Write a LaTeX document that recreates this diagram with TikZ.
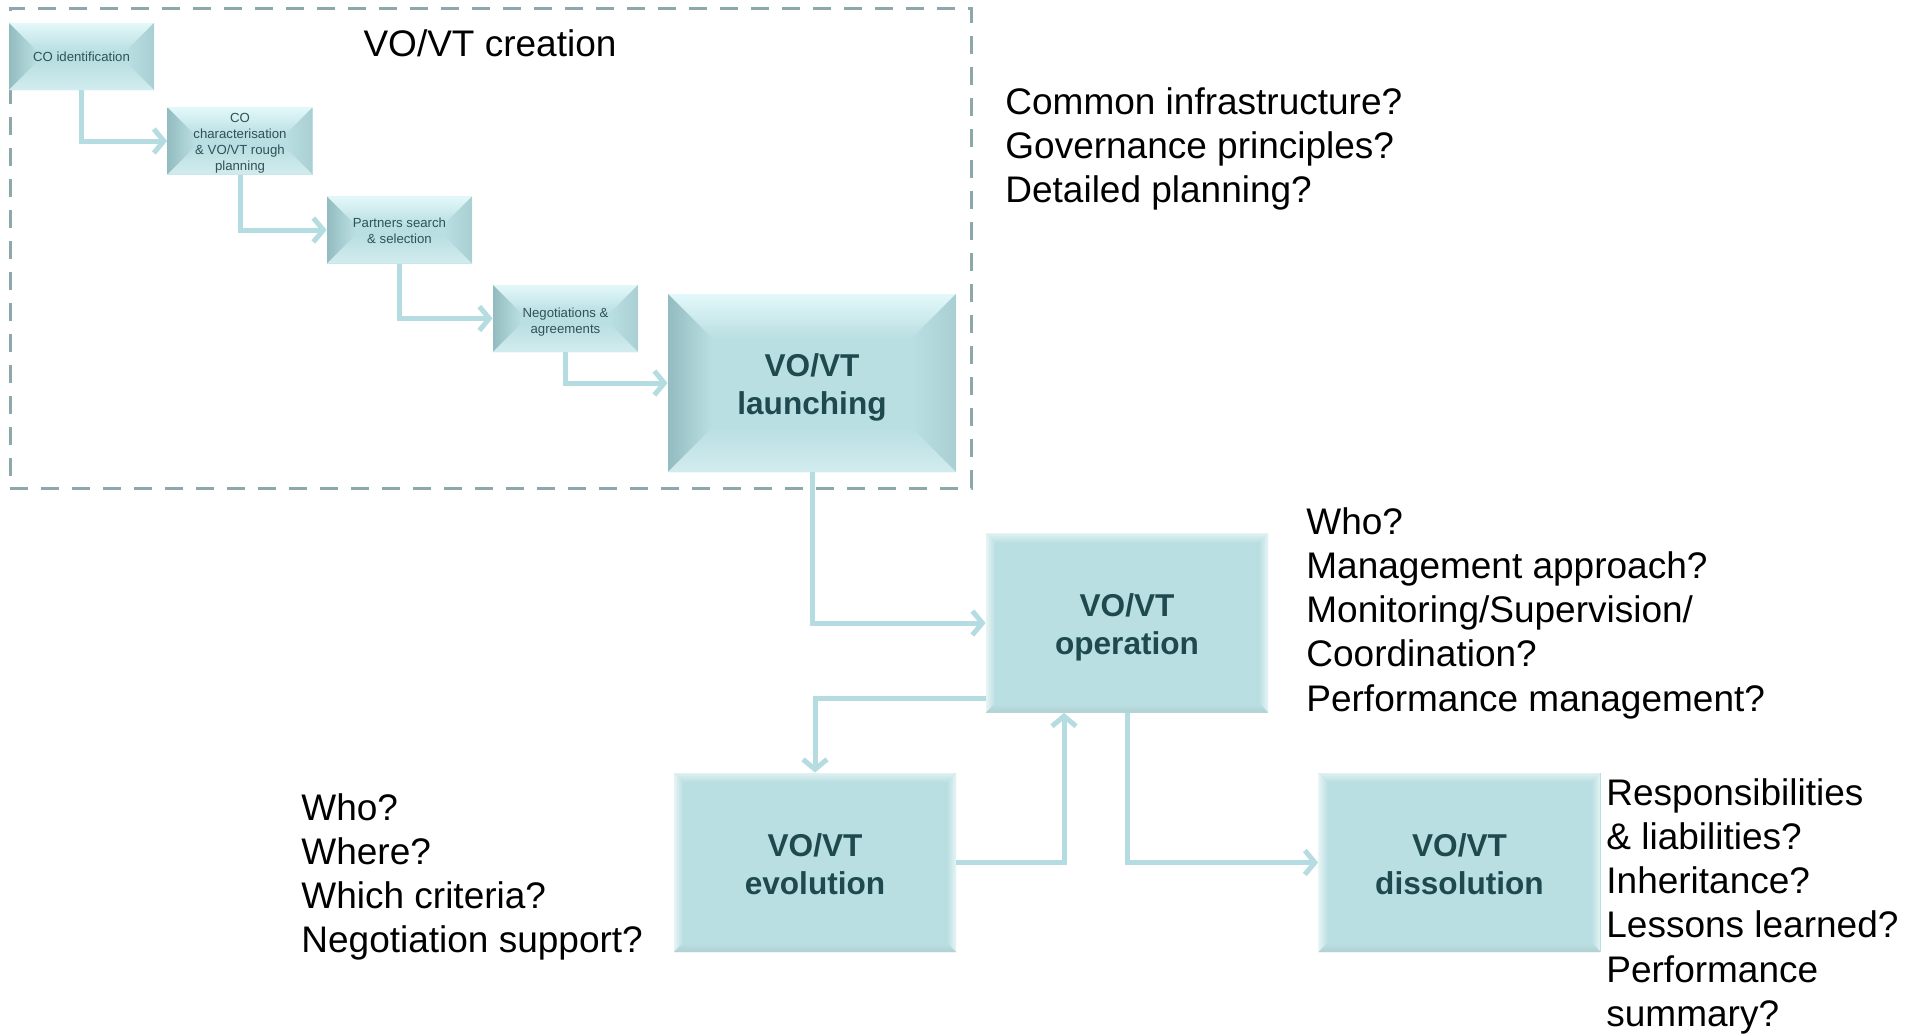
\documentclass[tikz,border=0pt]{standalone}
\usepackage{fontspec}
\setmainfont{Liberation Sans}
\usetikzlibrary{arrows.meta,calc}
\definecolor{boxfill}{HTML}{BADFE2}
\definecolor{boxdark}{HTML}{93BCC0}
\definecolor{boxmid}{HTML}{A9CFD2}
\definecolor{boxlight}{HTML}{E3F8FA}
\definecolor{boxlow}{HTML}{D2ECEE}
\definecolor{boxtext}{HTML}{1E4A4F}
\definecolor{smalltext}{HTML}{2F5256}
\definecolor{flowcol}{HTML}{B5DCE0}
\definecolor{framecol}{HTML}{8CA8AA}
\newcommand\bevdraw[5]{%
  \path (path picture bounding box.north west) coordinate (pA)
        (path picture bounding box.north east) coordinate (pB)
        (path picture bounding box.south east) coordinate (pC)
        (path picture bounding box.south west) coordinate (pD);
  \fill[top color=#2, bottom color=boxfill] (pA) -- (pB) -- ($(pB)+(-#1pt,-#1pt)$) -- ($(pA)+(#1pt,-#1pt)$) -- cycle;
  \fill[left color=#3, right color=boxfill] (pA) -- ($(pA)+(#1pt,-#1pt)$) -- ($(pD)+(#1pt,#1pt)$) -- (pD) -- cycle;
  \fill[left color=boxfill, right color=#4] (pB) -- (pC) -- ($(pC)+(-#1pt,#1pt)$) -- ($(pB)+(-#1pt,-#1pt)$) -- cycle;
  \fill[top color=boxfill, bottom color=#5] (pD) -- ($(pD)+(#1pt,#1pt)$) -- ($(pC)+(-#1pt,#1pt)$) -- (pC) -- cycle;
}
\newcommand\boxlines[2]{\raisebox{-#1}[\height][\depth]{\begin{tabular}{@{}c@{}}#2\end{tabular}}}
\tikzset{
  basebox/.style={fill=boxfill, inner sep=0pt, align=center},
  smallbox/.style={basebox, minimum width=72.5pt, minimum height=33.5pt,
    text=smalltext, font=\fontsize{6.6}{8}\selectfont,
    path picture={\bevdraw{14}{boxlight}{boxdark}{boxmid}{boxlow}}},
  launchbox/.style={basebox, minimum width=144pt, minimum height=89pt,
    text=boxtext, font=\bfseries\fontsize{15.8}{19}\selectfont,
    path picture={\bevdraw{22}{boxlight}{boxdark}{boxmid}{boxlow}}},
  bigbox/.style={basebox, minimum width=141pt, minimum height=89.5pt,
    text=boxtext, font=\bfseries\fontsize{15.8}{19}\selectfont,
    path picture={\bevdraw{4.5}{white!55!boxfill}{white!65!boxfill}{white!65!boxfill}{boxfill!85!gray}}},
  flow/.style={draw=flowcol, line width=2.5pt, -{Straight Barb[length=5pt,width=12pt]}},
  framebox/.style={draw=framecol, line width=1.5pt, dash pattern=on 9pt off 6.5pt, inner sep=0pt},
  question/.style={anchor=north west, inner sep=0pt, align=left, text=black,
    font=\fontsize{18.5}{22.1}\selectfont},
  titletext/.style={inner sep=0pt, text=black, font=\fontsize{18.5}{22.1}\selectfont}
}
\begin{document}
\begin{tikzpicture}[x=0.5pt,y=-0.5pt]
\useasboundingbox (0,0) rectangle (1919,1034);
% creation frame
\node[framebox, minimum width=480.5pt, minimum height=240pt] (frame) at (490.5,248) {};
\node[titletext] (title) at (490,43) {VO/VT creation};
% creation steps
\node[smallbox] (coid) at (81.5,56.5) {CO identification};
\node[smallbox] (coch) at (240,141) {\boxlines{0.9pt}{CO\\characterisation\\\& VO/VT rough\\planning}};
\node[smallbox] (part) at (399.5,230) {\boxlines{1.2pt}{Partners search\\\& selection}};
\node[smallbox] (nego) at (565.5,318.5) {\boxlines{1.8pt}{Negotiations \&\\agreements}};
\node[launchbox] (launch) at (812,383) {\boxlines{2.5pt}{VO/VT\\launching}};
% main phases
\node[bigbox] (oper) at (1127,623) {\boxlines{2.5pt}{VO/VT\\operation}};
\node[bigbox] (evol) at (815,862.5) {\boxlines{2.5pt}{VO/VT\\evolution}};
\node[bigbox] (diss) at (1459.5,862.5) {\boxlines{2.5pt}{VO/VT\\dissolution}};
% connectors
\draw[flow] (coid.south) |- (coch.west);
\draw[flow] (coch.south) |- (part.west);
\draw[flow] (part.south) |- (nego.west);
\draw[flow] (nego.south) |- (launch.west);
\draw[flow] (launch.south) |- (oper.west);
\draw[flow] ([yshift=7pt]oper.south west) -| (evol.north);
\draw[flow] (evol.east) -| ([xshift=-31.5pt]oper.south);
\draw[flow] (oper.south) |- (diss.west);
% questions
\node[question] (q1) at (1005,87) {Common infrastructure?\\Governance principles?\\Detailed planning?};
\node[question] (q2) at (1306,507) {Who?\\Management approach?\\Monitoring/Supervision/\\Coordination?\\Performance management?};
\node[question] (q3) at (301,793) {Who?\\Where?\\Which criteria?\\Negotiation support?};
\node[question] (q4) at (1606,778) {Responsibilities\\\& liabilities?\\Inheritance?\\Lessons learned?\\Performance\\summary?};
\end{tikzpicture}
\end{document}
